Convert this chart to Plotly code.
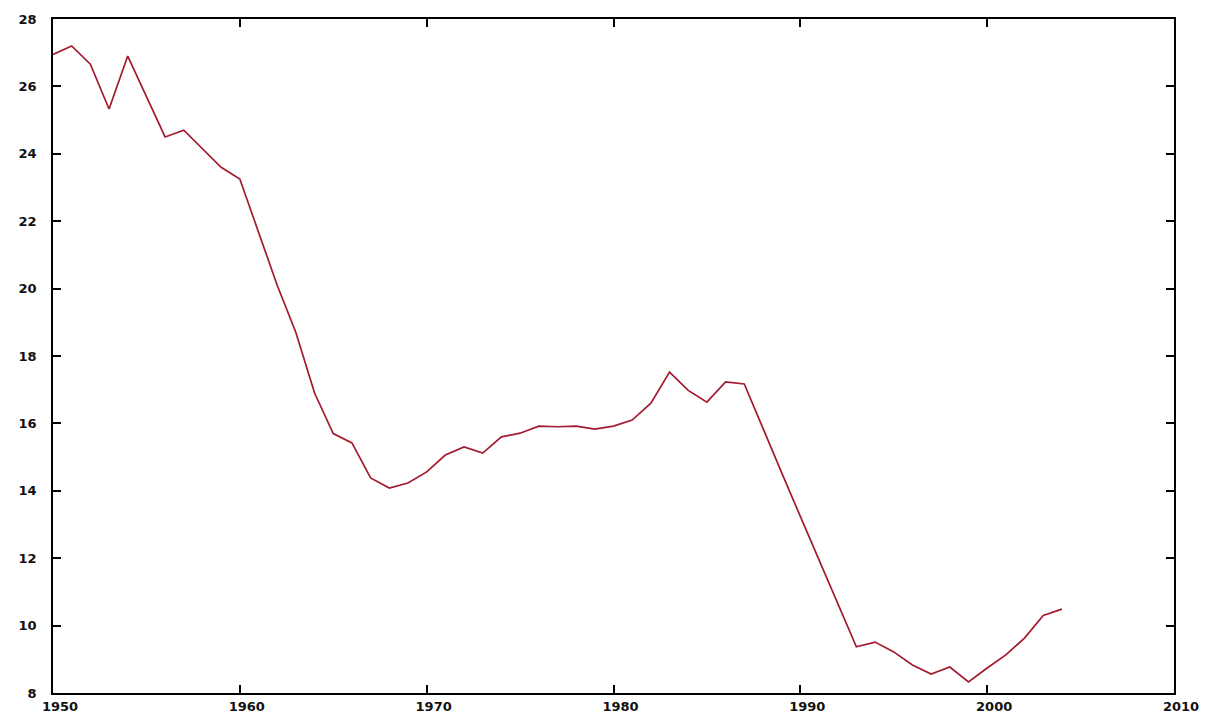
import plotly.graph_objects as go

years = list(range(1950, 2005))
values = [
    26.95, 27.20, 26.66, 25.33, 26.90, 25.70, 24.50, 24.70, 24.15, 23.60,
    23.25, 21.65, 20.10, 18.70, 16.90, 15.70, 15.42, 14.38, 14.08, 14.23,
    14.56, 15.06, 15.30, 15.12, 15.60, 15.71, 15.92, 15.90, 15.92, 15.83,
    15.92, 16.10, 16.60, 17.52, 16.98, 16.63, 17.23, 17.17, 15.84, 14.54,
    13.24, 11.94, 10.64, 9.37, 9.51, 9.22, 8.83, 8.56, 8.77, 8.33,
    8.74, 9.13, 9.63, 10.30, 10.49,
]

x_ticks = [1950, 1960, 1970, 1980, 1990, 2000, 2010]
y_ticks = [8, 10, 12, 14, 16, 18, 20, 22, 24, 26, 28]

fig = go.Figure()
fig.add_trace(go.Scatter(
    x=years, y=values, mode="lines",
    line=dict(color="#a31a2e", width=1.7),
    showlegend=False, hoverinfo="x+y",
))

tick_font = dict(family="DejaVu Sans", size=13, color="#111111", weight="bold")

fig.update_layout(
    width=1210, height=718,
    margin=dict(l=53, r=36, t=19, b=25),
    paper_bgcolor="white", plot_bgcolor="white",
    xaxis=dict(
        range=[1950, 2010], tickvals=x_ticks, ticktext=[str(v) for v in x_ticks],
        showgrid=False, zeroline=False, automargin=False,
        showline=True, linecolor="black", linewidth=1.5, mirror="ticks",
        ticks="inside", ticklen=8, tickwidth=1.5, tickcolor="black",
        tickfont=tick_font, ticklabelshift=7, ticklabelstandoff=1,
    ),
    yaxis=dict(
        range=[8, 28], tickvals=y_ticks, ticktext=[str(v) for v in y_ticks],
        showgrid=False, zeroline=False, automargin=False,
        showline=True, linecolor="black", linewidth=1.5, mirror="ticks",
        ticks="inside", ticklen=8, tickwidth=1.5, tickcolor="black",
        tickfont=tick_font, ticklabelstandoff=12,
    ),
)

fig.write_html(
    "out.html",
    config={"displayModeBar": False},
    post_script="document.body.style.margin='0px';document.body.style.overflow='hidden';",
)
